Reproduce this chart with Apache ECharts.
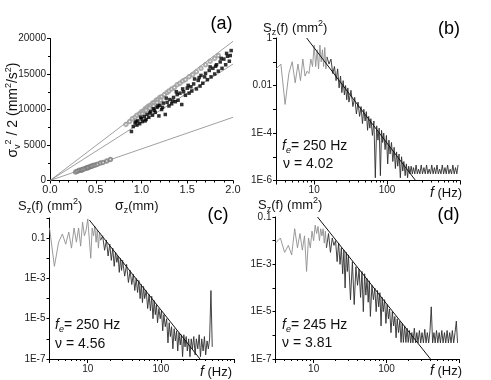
<!DOCTYPE html>
<html>
<head>
<meta charset="utf-8">
<script src="https://cdn.jsdelivr.net/npm/echarts@6/dist/echarts.min.js"></script>
<style>
  html, body { margin: 0; padding: 0; background: #fff; }
  #chart { width: 491px; height: 380px; }
</style>
</head>
<body>
<div id="chart"></div>
<script>
// ---- data ----

// (a) sigma_z (mm) vs sigma_v^2 / 2 (mm^2/s^2)
var SZ_SQ = [0.89,0.91,0.93,0.95,0.96,0.98,1.00,1.01,1.03,1.05,1.06,1.08,1.10,1.12,1.13,1.15,1.17,1.19,1.20,1.22,
  1.24,1.26,1.28,1.30,1.31,1.33,1.35,1.37,1.39,1.40,1.42,1.44,1.46,1.48,1.50,1.52,1.54,1.55,1.57,1.60,
  1.62,1.64,1.65,1.67,1.70,1.72,1.74,1.76,1.78,1.80,1.82,1.84,1.86,1.88,1.90,1.92,1.94,1.96,1.98,
  0.94,0.99,1.04,1.09,1.14,1.18,1.23,1.27,1.34,1.38,1.45,1.51,1.58,1.63,1.69,1.75,1.81,1.87,1.93,1.97];
var SV_SQ = [6900,7600,8100,7800,8400,8000,8700,8300,9000,8600,9300,8900,9700,9200,10100,9600,10300,9100,10600,10000,
  10900,9300,11000,10500,11400,10800,11700,11100,12100,11300,12300,10700,12500,12000,13000,12300,13200,12600,13600,12900,
  14100,13300,14800,13700,15100,14200,15500,14600,15800,15000,16300,15400,16700,15800,17100,16300,17500,16800,18300,
  8300,8900,8400,9500,9900,10500,10300,11600,11200,12500,12900,13400,14300,14500,14600,16000,16100,17200,17900,17600];

var SZ_OC = [0.83,0.87,0.90,0.93,0.95,0.98,1.00,1.02,1.04,1.06,1.08,1.10,1.12,1.14,1.16,1.18,1.20,1.22,1.25,1.28,
  1.30,1.33,1.36,1.39,1.42,1.45,1.48,1.52,1.56,1.60,1.65,1.70,1.75,1.80,1.84,1.01,1.05,1.09,1.13,1.17,1.21];
var SV_OC = [7900,8300,8700,8900,9200,9400,9700,9800,10100,10300,10500,10600,10900,11000,11300,11400,11700,11800,12100,12400,
  12600,12900,13100,13500,13700,14000,14200,14600,14900,15300,15800,16300,16800,17200,17600,9400,9900,10200,10500,11000,11300];

var SZ_LOW = [0.28,0.30,0.32,0.34,0.35,0.36,0.38,0.40,0.41,0.42,0.44,0.45,0.46,0.48,0.50,0.52,0.55,0.58,0.62,0.66];
var SV_LOW = [1200,1300,1450,1450,1500,1600,1650,1800,1750,1850,1950,2000,2050,2150,2200,2300,2450,2550,2750,2950];

// fitted lines through origin: value at sigma_z = 2.0
var LINE_END_A = [19600, 16400, 8900];

// (b)(c)(d) spectra, frequency in Hz
var F = [3,3.5,4,4.5,5,5.5,6,6.5,7,7.5,8,8.5,9,9.5,10,10.5,11,11.5,12,12.5,13,13.5,14,14.5,15,16,17,18,19,20,
  21,22,23,24,25,26,27,28,29,30,32,34,36,38,40,42,44,46,48,50,52,54,56,58,60,
  63,66,69,72,75,78,81,84,87,90,94,98,102,106,110,115,120,125,130,135,140,146,152,158,164,170,177,184,191,198,
  206,214,222,230,240,250,260,270,282,294,306,320,334,348,362,378,394,410,428,446,464,484,504,526,548,572,596,622,648,676,704,734,766,798,832,868,905,940];

var S_B = [5e-2,8e-2,1.6e-3,3.2e-2,0.1,1.3e-2,8e-2,1.6e-2,0.13,2.5e-2,4e-2,3.2e-2,0.13,6.3e-2,0.5,6.3e-2,0.32,5e-2,0.5,0.1,0.32,6.3e-2,0.4,5e-2,0.16,8e-2,0.13,3.2e-2,6.3e-2,1.6e-2,
  5e-2,7.9e-3,2.5e-2,5e-3,1.6e-2,4e-3,1e-2,2.5e-3,7.9e-3,2e-3,6.3e-3,1.3e-3,3.2e-3,6.3e-4,2e-3,5e-4,1.3e-3,2.5e-4,1e-3,3.2e-4,7.9e-4,1.3e-4,5e-4,1.6e-4,4e-4,
  7.9e-5,3.2e-4,1.3e-6,2e-4,5e-5,1.6e-4,1.6e-6,1.3e-4,4e-5,1e-4,2e-5,7.9e-5,5e-6,5e-5,1.3e-5,4e-5,6.3e-6,2.5e-5,3.2e-6,1.6e-5,4e-6,1.3e-5,1.3e-6,1e-5,2.5e-6,6.3e-6,1.6e-6,5e-6,1.3e-6,4e-6,
  1.9e-6,4e-6,1.9e-6,3.5e-6,1.9e-6,4.5e-6,1.9e-6,3e-6,1.9e-6,4.5e-6,1.9e-6,3.5e-6,1.9e-6,4.5e-6,1.9e-6,3e-6,1.9e-6,4.5e-6,1.9e-6,3.5e-6,1.9e-6,4.5e-6,1.9e-6,3e-6,1.9e-6,4.5e-6,1.9e-6,3.5e-6,1.9e-6,4.5e-6,1.9e-6,3e-6,1.9e-6,4.5e-6,1.9e-6,3.5e-6,1.9e-6,4.5e-6];

var S_C = [0.32,4e-3,6.3e-2,0.16,5e-2,0.2,3.2e-2,0.32,6.3e-2,0.32,4e-2,0.63,0.13,0.25,0.9,0.8,1e-2,0.32,0.13,0.4,6.3e-2,0.25,3.2e-2,0.2,7.9e-2,0.13,2.5e-2,7.9e-2,1.3e-2,5e-2,
  7.9e-3,3.2e-2,4e-3,2e-2,6.3e-3,1.3e-2,2e-3,1e-2,2.5e-3,7.9e-3,1.3e-3,5e-3,6.3e-4,2.5e-3,5e-4,1.6e-3,2.5e-4,1e-3,2e-4,7.9e-4,1e-4,5e-4,6.3e-5,4e-4,1e-4,
  2.5e-4,3.2e-5,1.6e-4,2.5e-5,1.3e-4,1e-5,7.9e-5,1.6e-5,5e-5,6.3e-6,3.2e-5,1e-5,2.5e-5,2.5e-6,1.6e-5,4e-6,1e-5,6.3e-7,6.3e-6,1.3e-6,4e-6,3.2e-7,3.2e-6,7.9e-7,2.5e-6,2.5e-7,2e-6,5e-7,1.6e-6,1.3e-7,
  1.6e-6,4e-7,1.3e-6,2.5e-7,1e-6,1.3e-7,1e-6,3.2e-7,1.3e-6,1.6e-7,1e-6,3.2e-7,1.6e-6,1.3e-7,1e-6,2.5e-7,1.3e-6,1.6e-7,7.9e-7,3.2e-7,1e-6,2.5e-4,4e-7,
  null,null,null,null,null,null,null,null,null,null,null,null,null,null,null];

var S_D = [7.9e-3,1.3e-2,3.2e-3,6.3e-3,2.5e-3,3.2e-2,5e-3,2e-2,4e-3,1.6e-2,5e-4,1.3e-2,5e-3,2.5e-2,1e-2,4.5e-2,2e-2,4e-2,1e-2,3.2e-2,1.6e-2,3.2e-2,7.9e-3,2.5e-2,5e-3,2e-2,3.2e-3,1.3e-2,6.3e-3,1e-2,
  1.3e-3,7.9e-3,1e-3,5e-3,4e-4,4e-3,1e-4,3.2e-3,5e-4,2.5e-3,3.2e-5,1.3e-3,2e-5,7.9e-4,1.3e-4,6.3e-4,4e-5,5e-4,1e-5,4e-4,5e-5,2.5e-4,2.5e-5,2e-4,6.3e-6,
  1.3e-4,3.2e-5,1e-4,1e-5,7.9e-5,1.6e-5,6.3e-5,2.5e-6,4e-5,1e-5,3.2e-5,3.2e-6,2e-5,5e-6,1.3e-5,1.3e-6,1e-5,2.5e-6,6.3e-6,7.9e-7,5e-6,1.3e-6,4e-6,5e-7,3.2e-6,5e-7,2.5e-6,5e-7,2e-6,5e-7,
  1.6e-6,4.8e-7,1.3e-6,4.8e-7,2e-6,4.8e-7,1.3e-6,4.8e-7,1.6e-6,4.8e-7,1.3e-6,4.8e-7,1.8e-6,4.8e-7,1.3e-6,4.8e-7,1.6e-6,1.6e-5,4.8e-7,1.3e-6,4.8e-7,1.6e-6,4.8e-7,1.3e-6,4.8e-7,1.6e-6,4.8e-7,1.3e-6,4.8e-7,1.6e-6,4.8e-7,1.3e-6,4.8e-7,1.6e-6,4.8e-7,1.3e-6,4e-6,4.8e-7];

// power-law fits (start, end)
var FIT_B = [[7.9, 1], [246, 1e-6]];
var FIT_C = [[10.5, 0.8], [343, 1e-7]];
var FIT_D = [[11.3, 0.1], [400, 1e-7]];

// ticks
var A_X_TICKS = [0, 0.5, 1.0, 1.5, 2.0];
var A_Y_TICKS = [0, 5000, 10000, 15000, 20000];
var LOG_X_MINOR = [4,5,6,7,8,9,20,30,40,50,60,70,80,90,200,300,400,500,600,700,800,900];
var SPLIT_F = 15; // below this the trace is drawn light grey

// ---- chart ----
var FONT = "'Liberation Sans', Arial, sans-serif";
var myChart = echarts.init(document.getElementById("chart"));

function pairs(xs, ys, lo, hi) {
  var out = [];
  for (var i = 0; i < xs.length; i++) {
    if (ys[i] == null) continue;
    if (lo != null && xs[i] < lo) continue;
    if (hi != null && xs[i] > hi) continue;
    out.push([xs[i], ys[i]]);
  }
  return out;
}

function decade(v) {
  var e = Math.log10(v);
  if (Math.abs(e - Math.round(e)) > 1e-6) return null;
  return Math.round(e);
}

function yLabel(even) {
  return function(v) {
    var e = decade(v);
    if (e === null || Math.abs(e % 2) !== (even ? 0 : 1)) return "";
    if (e >= -2) return String(Math.pow(10, e).toFixed(Math.max(0, -e)));
    return "1E" + e;
  };
}

function xLabel(v) {
  var e = decade(v);
  return e === 1 || e === 2 ? String(Math.round(Math.pow(10, e))) : "";
}

var axisLine = { lineStyle: { color: "#000", width: 1 } };
var lbl = { fontSize: 10, color: "#222", fontFamily: FONT };

function logX(g) {
  return {
    type: "log", gridIndex: g, min: 3, max: 1000, position: "bottom",
    axisLine: axisLine,
    axisTick: { length: 4, lineStyle: { color: "#000" } },
    axisLabel: Object.assign({ margin: 5, formatter: xLabel }, lbl),
    splitLine: { show: false }
  };
}
function logXMinor(g) {
  return {
    type: "log", gridIndex: g, min: 3, max: 1000, position: "bottom",
    axisLine: { show: false },
    axisTick: { length: 2, customValues: LOG_X_MINOR, lineStyle: { color: "#000" } },
    axisLabel: { show: false },
    splitLine: { show: false }
  };
}
function logY(g, min, max, even) {
  return {
    type: "log", gridIndex: g, min: min, max: max,
    axisLine: axisLine,
    axisTick: { length: 3, lineStyle: { color: "#000" } },
    axisLabel: Object.assign({ margin: 4, formatter: yLabel(even) }, lbl),
    splitLine: { show: false }
  };
}

// one spectrum = light low-frequency part + dark dense part + fit line
function spectrum(xi, yi, s, fit) {
  return [
    { type: "line", xAxisIndex: xi, yAxisIndex: yi, showSymbol: false, data: pairs(F, s, null, SPLIT_F),
      lineStyle: { color: "#8f8f8f", width: 0.9 } },
    { type: "line", xAxisIndex: xi, yAxisIndex: yi, showSymbol: false, data: pairs(F, s, SPLIT_F, null),
      lineStyle: { color: "#2e2e2e", width: 0.9 } },
    { type: "line", xAxisIndex: xi, yAxisIndex: yi, showSymbol: false, data: fit,
      lineStyle: { color: "#111", width: 1 }, z: 3 }
  ];
}

var rich = {
  n: { fontSize: 13, fontFamily: FONT, fill: "#111", lineHeight: 18 },
  it: { fontSize: 14, fontFamily: FONT, fill: "#111", fontStyle: "italic", lineHeight: 18 },
  sub: { fontSize: 9, fontFamily: FONT, fill: "#111", verticalAlign: "bottom" },
  subi: { fontSize: 9, fontFamily: FONT, fill: "#111", fontStyle: "italic", verticalAlign: "bottom" },
  sup: { fontSize: 9, fontFamily: FONT, fill: "#111", verticalAlign: "top" },
  a: { fontSize: 14, fontFamily: FONT, fill: "#111", lineHeight: 18 }
};

function txt(x, y, text, extra) {
  return Object.assign({
    type: "text", x: x, y: y,
    style: { text: text, rich: rich, align: "left", verticalAlign: "middle", fill: "#111", font: "13px " + FONT }
  }, extra || {});
}
function tag(x, y, text) {
  return {
    type: "text", x: x, y: y,
    style: { text: text, align: "center", verticalAlign: "middle", fill: "#000", font: "18px " + FONT }
  };
}

var option = {
  animation: false,
  backgroundColor: "#fff",
  grid: [
    { left: 50, top: 38.5, width: 183, height: 142, outerBoundsMode: "none", containLabel: false },
    { left: 276, top: 38, width: 184, height: 142.5, outerBoundsMode: "none", containLabel: false },
    { left: 49.5, top: 218, width: 184.5, height: 141, outerBoundsMode: "none", containLabel: false },
    { left: 275.5, top: 217, width: 184, height: 142, outerBoundsMode: "none", containLabel: false }
  ],
  xAxis: [
    {
      type: "value", gridIndex: 0, min: A_X_TICKS[0], max: A_X_TICKS[4], interval: 0.5,
      axisLine: axisLine,
      axisTick: { length: 3, lineStyle: { color: "#000" } },
      minorTick: { show: true, splitNumber: 5, length: 2, lineStyle: { color: "#000" } },
      axisLabel: Object.assign({ margin: 4, formatter: function(v) { return v.toFixed(1); } }, lbl, { fontSize: 11 }),
      splitLine: { show: false }
    },
    logX(1), logXMinor(1),
    logX(2), logXMinor(2),
    logX(3), logXMinor(3)
  ],
  yAxis: [
    {
      type: "value", gridIndex: 0, min: A_Y_TICKS[0], max: A_Y_TICKS[4], interval: 5000,
      axisLine: axisLine,
      axisTick: { length: 3, lineStyle: { color: "#000" } },
      minorTick: { show: true, splitNumber: 2, length: 2, lineStyle: { color: "#000" } },
      axisLabel: Object.assign({ margin: 4, formatter: function(v) { return String(v); } }, lbl),
      splitLine: { show: false }
    },
    logY(1, 1e-6, 1, true),
    logY(2, 1e-7, 1, false),
    logY(3, 1e-7, 0.1, false)
  ],
  series: [
    // (a) fitted lines
    { type: "line", xAxisIndex: 0, yAxisIndex: 0, showSymbol: false, data: [[0, 0], [2, LINE_END_A[0]]], lineStyle: { color: "#888", width: 0.8 }, z: 1 },
    { type: "line", xAxisIndex: 0, yAxisIndex: 0, showSymbol: false, data: [[0, 0], [2, LINE_END_A[1]]], lineStyle: { color: "#888", width: 0.8 }, z: 1 },
    { type: "line", xAxisIndex: 0, yAxisIndex: 0, showSymbol: false, data: [[0, 0], [2, LINE_END_A[2]]], lineStyle: { color: "#888", width: 0.8 }, z: 1 },
    // (a) points
    { type: "scatter", xAxisIndex: 0, yAxisIndex: 0, symbol: "emptyCircle", symbolSize: 3.5,
      itemStyle: { color: "#9a9a9a", borderColor: "#9a9a9a", borderWidth: 0.7 }, data: pairs(SZ_OC, SV_OC), z: 3 },
    { type: "scatter", xAxisIndex: 0, yAxisIndex: 0, symbol: "rect", symbolSize: 3.5,
      itemStyle: { color: "#000" }, data: pairs(SZ_SQ, SV_SQ), z: 4 },
    { type: "scatter", xAxisIndex: 0, yAxisIndex: 0, symbol: "emptyCircle", symbolSize: 3.5,
      itemStyle: { color: "#7a7a7a", borderColor: "#7a7a7a", borderWidth: 0.7 }, data: pairs(SZ_LOW, SV_LOW), z: 3 }
  ]
    .concat(spectrum(1, 1, S_B, FIT_B))
    .concat(spectrum(3, 2, S_C, FIT_C))
    .concat(spectrum(5, 3, S_D, FIT_D)),
  graphic: [
    tag(221.5, 24, "(a)"),
    tag(449, 29, "(b)"),
    tag(218, 215, "(c)"),
    tag(448.5, 215, "(d)"),
    // axis titles
    txt(13, 110, "", {
      rotation: Math.PI / 2,
      style: { text: "{a|σ}{sub|v}{sup|2}{a| / 2 (mm}{sup|2}{a|/s}{sup|2}{a|)}", rich: rich, align: "center", verticalAlign: "middle" }
    }),
    txt(115, 206, "{a|σ}{sub|z}{n|(mm)}"),
    txt(263, 28, "{n|S}{sub|z}{n|(f) (mm}{sup|2}{n|)}"),
    txt(18, 206, "{n|S}{sub|z}{n|(f) (mm}{sup|2}{n|)}"),
    txt(258, 205, "{n|S}{sub|z}{n|(f) (mm}{sup|2}{n|)}"),
    txt(430, 193, "{it|f}{n| (Hz)}"),
    txt(200, 372, "{it|f}{n| (Hz)}"),
    txt(430, 371, "{it|f}{n| (Hz)}"),
    // annotations
    txt(282, 146, "{it|f}{subi|e}{a|= 250 Hz}"),
    txt(283, 164, "{a|ν = 4.02}"),
    txt(55, 325, "{it|f}{subi|e}{a|= 250 Hz}"),
    txt(55, 344, "{a|ν = 4.56}"),
    txt(282, 325, "{it|f}{subi|e}{a|= 245 Hz}"),
    txt(282, 343, "{a|ν = 3.81}")
  ]
};

myChart.setOption(option);
window.addEventListener("resize", function() {
  myChart.resize();
});
</script>
</body>
</html>
